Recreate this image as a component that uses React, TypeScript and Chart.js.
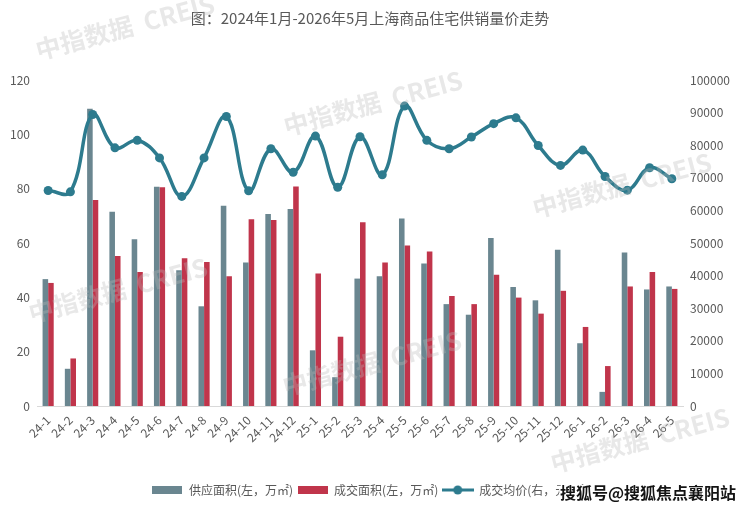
import { useEffect, useRef } from "react";
import { Chart, registerables } from "chart.js";

Chart.register(...registerables);

const titleText = "图：2024年1月-2026年5月上海商品住宅供销量价走势";

const categories = [
  "24-1", "24-2", "24-3", "24-4", "24-5", "24-6", "24-7", "24-8", "24-9", "24-10", "24-11", "24-12",
  "25-1", "25-2", "25-3", "25-4", "25-5", "25-6", "25-7", "25-8", "25-9", "25-10", "25-11", "25-12",
  "26-1", "26-2", "26-3", "26-4", "26-5",
];

// 供应面积 (左, 万㎡)
const supplyArea = [
  46.7, 13.7, 109.4, 71.5, 61.4, 80.7, 50.0, 36.7, 73.7, 52.8, 70.7, 72.5,
  20.5, 10.6, 46.9, 47.8, 69.0, 52.5, 37.5, 33.6, 61.8, 43.8, 38.9, 57.5,
  23.1, 5.2, 56.5, 42.9, 44.0,
];

// 成交面积 (左, 万㎡)
const salesArea = [
  45.3, 17.5, 75.8, 55.2, 49.3, 80.5, 54.4, 53.0, 47.8, 68.7, 68.5, 80.8,
  48.8, 25.5, 67.6, 52.8, 59.1, 56.9, 40.5, 37.5, 48.3, 39.9, 34.0, 42.4,
  29.1, 14.7, 44.0, 49.3, 43.1,
];

// 成交均价 (右, 元/㎡)
const avgPrice = [
  66100, 65700, 89400, 79200, 81500, 76100, 64300, 76100, 88800, 66000, 78900, 71700,
  82800, 67100, 82600, 70900, 92000, 81500, 78900, 82500, 86600, 88400, 79900, 73800,
  78500, 70400, 66200, 73100, 69700,
];

const seriesLabels = ["供应面积(左，万㎡)", "成交面积(左，万㎡)", "成交均价(右，元/㎡)"];

const leftAxisMax = 120;
const leftAxisStep = 20;
const rightAxisMax = 100000;
const rightAxisStep = 10000;

const watermarkText = "中指数据  CREIS";
const sohuText = "搜狐号@搜狐焦点襄阳站";

const FONT = '"Noto Sans CJK SC", "Noto Sans", sans-serif';
const GRAY = "#6a8690";
const RED = "#c0354b";
const TEAL = "#2d7b8e";
const TEXT = "#595959";

function makeBoxIcon(color: string) {
  const c = document.createElement("canvas");
  c.width = 30;
  c.height = 8;
  const ctx = c.getContext("2d")!;
  ctx.fillStyle = color;
  ctx.fillRect(0, 0, 30, 8);
  return c;
}

function makeLineIcon(color: string) {
  const c = document.createElement("canvas");
  c.width = 32;
  c.height = 10;
  const ctx = c.getContext("2d")!;
  ctx.strokeStyle = color;
  ctx.lineWidth = 3;
  ctx.beginPath();
  ctx.moveTo(0, 5);
  ctx.lineTo(32, 5);
  ctx.stroke();
  ctx.fillStyle = color;
  ctx.beginPath();
  ctx.arc(16, 5, 4.5, 0, Math.PI * 2);
  ctx.fill();
  return c;
}

const watermarkPlugin = {
  id: "watermarks",
  afterDraw(chart: any) {
    const ctx = chart.ctx as CanvasRenderingContext2D;
    ctx.save();
    ctx.font = `bold 25px ${FONT}`;
    ctx.fillStyle = "rgba(185,185,185,0.33)";
    ctx.textAlign = "center";
    ctx.textBaseline = "middle";
    const spots = [
      [125, 27],
      [373, 103],
      [118, 290],
      [372, 363],
      [622, 185],
      [640, 440],
    ];
    for (const [x, y] of spots) {
      ctx.save();
      ctx.translate(x, y);
      ctx.rotate((-15 * Math.PI) / 180);
      ctx.fillText(watermarkText, 0, 0);
      ctx.restore();
    }
    ctx.font = `bold 16px ${FONT}`;
    ctx.textAlign = "left";
    ctx.textBaseline = "middle";
    ctx.lineJoin = "round";
    ctx.lineWidth = 3;
    ctx.strokeStyle = "#ffffff";
    ctx.strokeText(sohuText, 560, 493);
    ctx.fillStyle = "#141414";
    ctx.fillText(sohuText, 560, 493);
    ctx.restore();
  },
};

export default function App() {
  const canvasRef = useRef<HTMLCanvasElement | null>(null);

  useEffect(() => {
    if (!canvasRef.current) return;
    const icons = [makeBoxIcon(GRAY), makeBoxIcon(RED), makeLineIcon(TEAL)];
    const chart = new Chart(canvasRef.current, {
      type: "bar",
      data: {
        labels: categories,
        datasets: [
          {
            type: "bar",
            label: seriesLabels[0],
            data: supplyArea,
            backgroundColor: GRAY,
            yAxisID: "y",
            order: 2,
            categoryPercentage: 0.5,
            barPercentage: 1.0,
          },
          {
            type: "bar",
            label: seriesLabels[1],
            data: salesArea,
            backgroundColor: RED,
            yAxisID: "y",
            order: 2,
            categoryPercentage: 0.5,
            barPercentage: 1.0,
          },
          {
            type: "line",
            label: seriesLabels[2],
            data: avgPrice,
            borderColor: TEAL,
            backgroundColor: TEAL,
            borderWidth: 3.5,
            pointRadius: 4.5,
            pointBackgroundColor: TEAL,
            pointBorderColor: TEAL,
            pointBorderWidth: 0,
            tension: 0.4,
            yAxisID: "y1",
            order: 0,
          } as any,
        ],
      },
      options: {
        responsive: false,
        animation: false,
        layout: { padding: { top: 0, left: 0, right: 0, bottom: 6 } },
        plugins: {
          title: {
            display: true,
            text: titleText,
            color: TEXT,
            font: { family: FONT, size: 15, weight: "normal" },
            padding: { top: 9, bottom: 53 },
          },
          legend: {
            display: true,
            position: "bottom",
            labels: {
              usePointStyle: true,
              pointStyleWidth: 31,
              boxHeight: 8,
              padding: 4,
              color: TEXT,
              font: { family: FONT, size: 12 },
              generateLabels: (ch: any) =>
                ch.data.datasets.map((ds: any, i: number) => ({
                  text: ds.label,
                  fillStyle: i === 0 ? GRAY : i === 1 ? RED : TEAL,
                  strokeStyle: "rgba(0,0,0,0)",
                  lineWidth: 0,
                  pointStyle: icons[i],
                  fontColor: TEXT,
                  hidden: false,
                  datasetIndex: i,
                })),
            },
          },
          tooltip: { enabled: false },
        },
        scales: {
          x: {
            grid: { display: false, drawTicks: false },
            border: { display: true, color: "#d9d9d9", width: 1 },
            ticks: {
              color: TEXT,
              font: { family: FONT, size: 12 },
              minRotation: 45,
              maxRotation: 45,
              autoSkip: false,
              padding: 7,
            },
            afterFit: (s: any) => {
              s.height = 74;
            },
          },
          y: {
            position: "left",
            min: 0,
            max: leftAxisMax,
            grid: { display: false, drawTicks: false },
            border: { display: false },
            ticks: {
              stepSize: leftAxisStep,
              color: TEXT,
              font: { family: FONT, size: 12 },
              padding: 7,
            },
            afterFit: (s: any) => {
              s.width = 37;
            },
          },
          y1: {
            position: "right",
            min: 0,
            max: rightAxisMax,
            grid: { display: false, drawTicks: false },
            border: { display: false },
            ticks: {
              stepSize: rightAxisStep,
              color: TEXT,
              font: { family: FONT, size: 12 },
              padding: 7,
              callback: (v: any) => String(v),
            },
            afterFit: (s: any) => {
              s.width = 57;
            },
          },
        },
      },
      plugins: [watermarkPlugin],
    });
    return () => chart.destroy();
  }, []);

  return (
    <div style={{ position: "fixed", left: 0, top: 0, width: 740, height: 512, background: "#fff" }}>
      <canvas ref={canvasRef} width={740} height={512} style={{ width: 740, height: 512 }} />
    </div>
  );
}
